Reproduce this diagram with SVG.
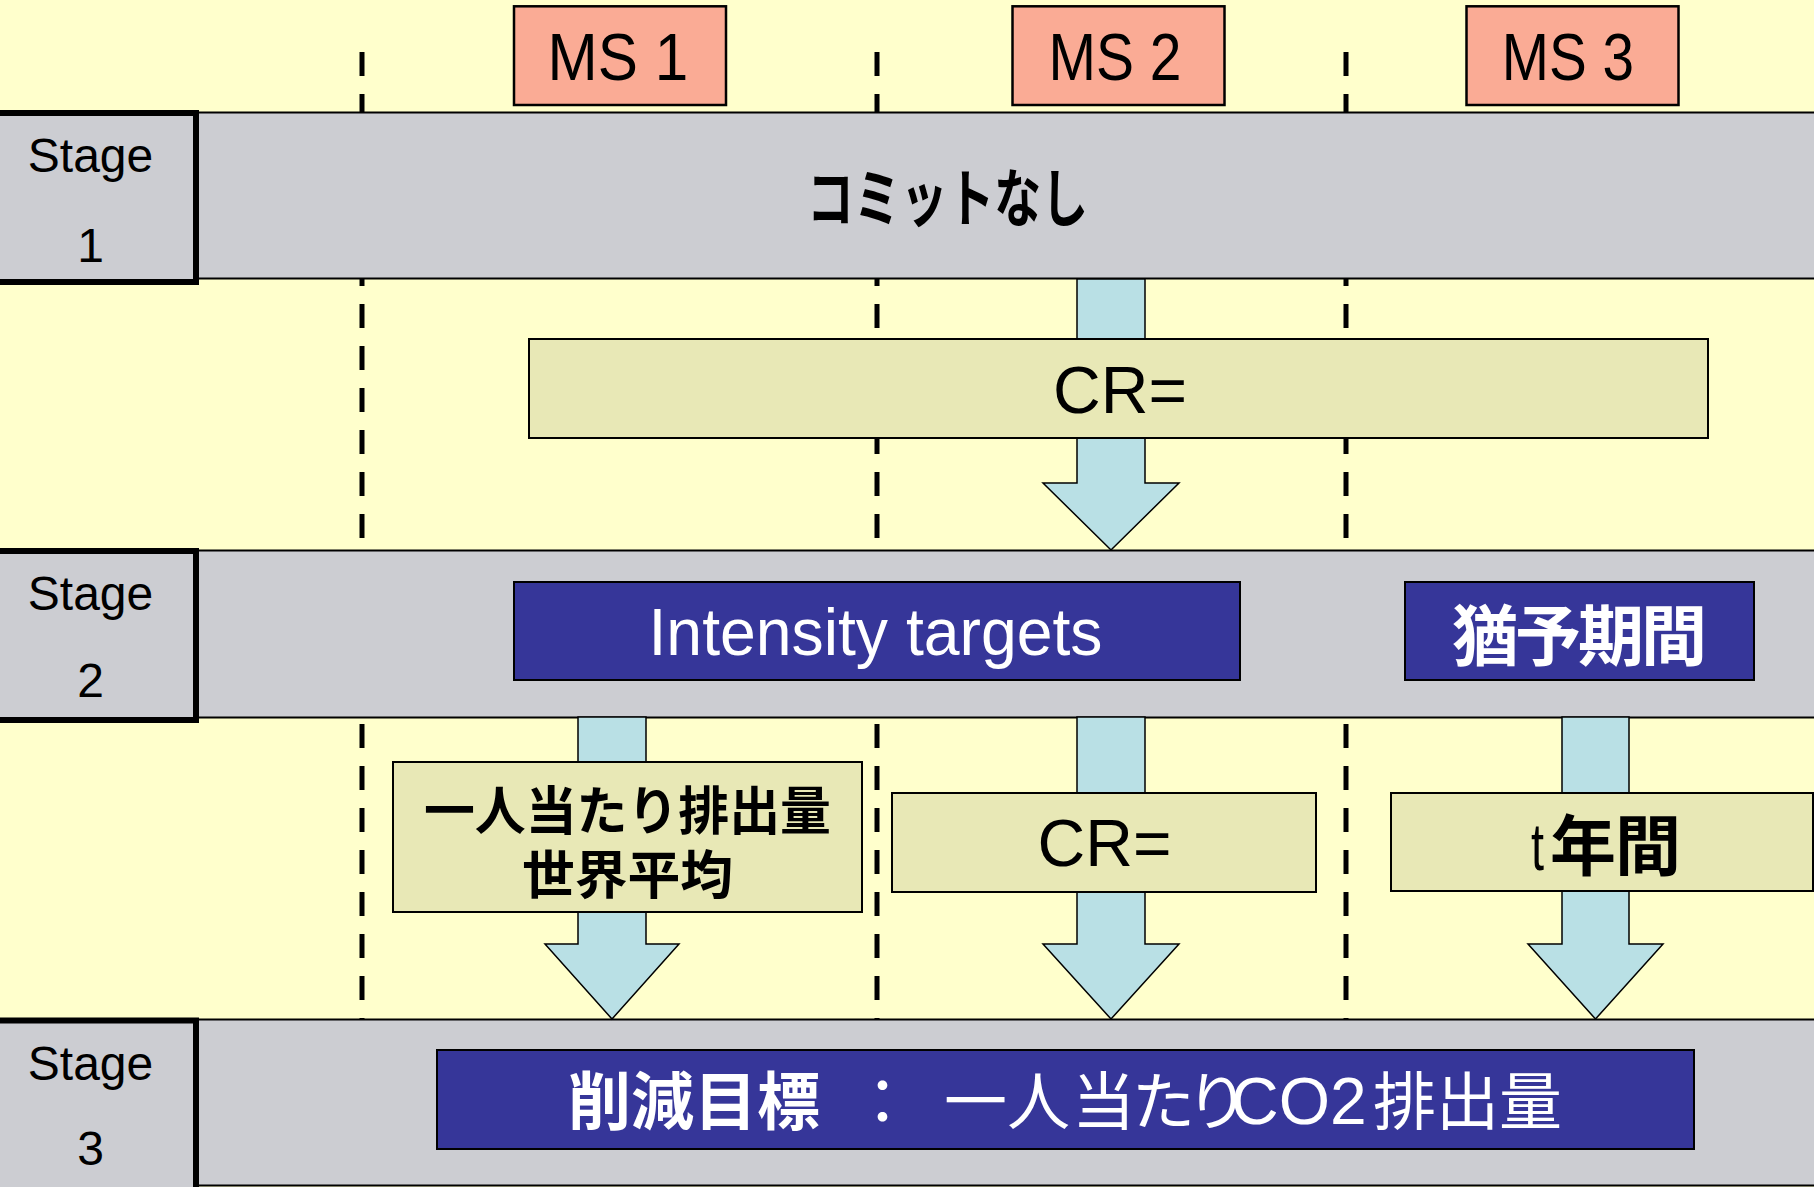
<svg xmlns="http://www.w3.org/2000/svg" width="1814" height="1187" viewBox="0 0 1814 1187">
<style>
.band{fill:#CCCDD2;stroke:#000;stroke-width:2}
.lbl{fill:#CCCDD2;stroke:#000;stroke-width:6}
.ms{fill:#FAAB95;stroke:#000;stroke-width:2.5}
.kh{fill:#E8E8B6;stroke:#000;stroke-width:2}
.bl{fill:#363699;stroke:#000;stroke-width:2}
.arr{fill:#B9E0E5;stroke:#000;stroke-width:1.5}
.dash{stroke:#000;stroke-width:5;stroke-dasharray:24 18;fill:none}
.lat{font-family:"Liberation Sans",Arial,sans-serif}
.cjk{font-family:"Noto Sans CJK JP","Noto Sans CJK SC",sans-serif}
.st{font-family:"Liberation Sans",Arial,sans-serif;font-size:48px;text-anchor:middle;fill:#000}
</style>
<rect x="0" y="0" width="1814" height="1187" fill="#FFFFCC"/>
<g id="gridlines">
<line class="dash" x1="362" y1="52" x2="362" y2="1019"/>
<line class="dash" x1="877" y1="52" x2="877" y2="1019"/>
<line class="dash" x1="1346" y1="52" x2="1346" y2="1019"/>
</g>
<g id="stage1">
<rect class="band" x="196" y="112.5" width="1630" height="166"/>
<rect class="lbl" x="-10" y="113" width="206" height="169"/>
<text class="st" x="90.5" y="172">Stage</text>
<text class="st" x="90.5" y="262">1</text>
<text class="cjk" x="807" y="221" font-size="63" font-weight="bold" textLength="281" lengthAdjust="spacingAndGlyphs">コミットなし</text>
</g>
<g id="stage2">
<rect class="band" x="196" y="550.5" width="1630" height="167"/>
<rect class="lbl" x="-10" y="551" width="206" height="169"/>
<text class="st" x="90.5" y="610">Stage</text>
<text class="st" x="90.5" y="697">2</text>
</g>
<g id="stage3">
<rect class="band" x="196" y="1019.5" width="1630" height="166"/>
<rect class="lbl" x="-10" y="1020.5" width="206" height="200"/>
<text class="st" x="90.5" y="1080">Stage</text>
<text class="st" x="90.5" y="1165">3</text>
</g>
<g id="ms1">
<rect class="ms" x="514" y="6.3" width="212" height="98.7"/>
<text class="lat" x="547.5" y="80" font-size="67" textLength="140.7" lengthAdjust="spacingAndGlyphs">MS 1</text>
</g>
<g id="ms2">
<rect class="ms" x="1012.5" y="6.3" width="212" height="98.7"/>
<text class="lat" x="1048.5" y="80" font-size="67" textLength="133" lengthAdjust="spacingAndGlyphs">MS 2</text>
</g>
<g id="ms3">
<rect class="ms" x="1466.5" y="6.3" width="212" height="98.7"/>
<text class="lat" x="1501.8" y="80" font-size="67" textLength="132.3" lengthAdjust="spacingAndGlyphs">MS 3</text>
</g>
<g id="connectors">
<polygon class="arr" points="1077,279 1145,279 1145,483 1179,483 1111,550 1043,483 1077,483"/>
<polygon class="arr" points="578,717 646,717 646,944 679,944 612,1019 545,944 578,944"/>
<polygon class="arr" points="1077,717 1145,717 1145,944 1179,944 1111,1019 1043,944 1077,944"/>
<polygon class="arr" points="1562,717 1629,717 1629,944 1663,944 1595.5,1019 1528,944 1562,944"/>
</g>
<g id="cr1">
<rect class="kh" x="529" y="339" width="1179" height="99"/>
<text class="lat" x="1120" y="413" font-size="66" text-anchor="middle">CR=</text>
</g>
<g id="intensity">
<rect class="bl" x="514" y="582" width="726" height="98"/>
<text class="lat" x="648.5" y="655" font-size="66" fill="#fff" textLength="454" lengthAdjust="spacingAndGlyphs">Intensity targets</text>
</g>
<g id="grace">
<rect class="bl" x="1405" y="582" width="349" height="98"/>
<text class="cjk" x="1452 1515 1578 1641" y="660" font-size="66" font-weight="bold" fill="#fff">猶予期間</text>
</g>
<g id="percapita">
<rect class="kh" x="393" y="762" width="469" height="150"/>
<text class="cjk" font-size="52" font-weight="bold"><tspan x="424" y="830" textLength="407" lengthAdjust="spacingAndGlyphs">一人当たり排出量</tspan><tspan x="522" y="894" textLength="211" lengthAdjust="spacingAndGlyphs">世界平均</tspan></text>
</g>
<g id="cr2">
<rect class="kh" x="892" y="793" width="424" height="99"/>
<text class="lat" x="1104.5" y="866" font-size="66" text-anchor="middle">CR=</text>
</g>
<g id="tyears">
<rect class="kh" x="1391" y="793" width="422" height="98"/>
<text y="870"><tspan class="lat" x="1531" font-size="66" textLength="13" lengthAdjust="spacingAndGlyphs">t</tspan><tspan class="cjk" x="1550 1615" font-size="66" font-weight="bold">年間</tspan></text>
</g>
<g id="target">
<rect class="bl" x="437" y="1050" width="1257" height="99"/>
<text y="1124" fill="#fff" font-size="63"><tspan class="cjk" x="568" font-weight="bold">削減目標 </tspan><tspan class="cjk" x="851">： </tspan><tspan class="cjk" x="944 1007 1072 1132 1186">一人当たり</tspan><tspan class="lat" x="1231" font-size="66">CO2</tspan><tspan class="cjk" x="1373 1436 1499">排出量</tspan></text>
</g>
</svg>
